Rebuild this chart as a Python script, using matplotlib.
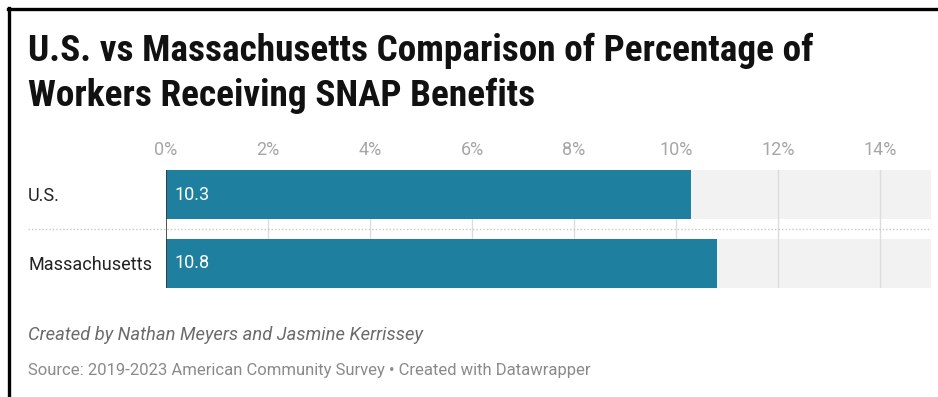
import matplotlib.pyplot as plt
import matplotlib.transforms as mtransforms
from matplotlib.lines import Line2D

plt.rcParams['font.family'] = ['Roboto', 'DejaVu Sans']

# data
categories = ['U.S.', 'Massachusetts']
values = [10.3, 10.8]
value_labels = ['10.3', '10.8']
ticks = [0, 2, 4, 6, 8, 10, 12, 14]
tick_labels = ['0%', '2%', '4%', '6%', '8%', '10%', '12%', '14%']
x_max = 15

title = 'U.S. vs Massachusetts Comparison of Percentage of\nWorkers Receiving SNAP Benefits'
byline = 'Created by Nathan Meyers and Jasmine Kerrissey'
source = 'Source: 2019-2023 American Community Survey \u2022 Created with Datawrapper'

W, H = 938, 397
fig = plt.figure(figsize=(W / 100, H / 100), dpi=100)
fig.patch.set_facecolor('white')

# axes placed in pixel terms
ax = fig.add_axes([166 / W, 1 - 288 / H, (931 - 166) / W, 118 / H])
bar_h = 49 / 69
pos = list(range(len(categories)))

ax.barh(pos, [x_max] * len(pos), height=bar_h, color='#f2f2f2', zorder=1)
for t in ticks[1:]:
    ax.axvline(t, color='#dcdcdc', lw=1, zorder=2)
ax.barh(pos, values, height=bar_h, color='#1f7f9f', zorder=3)
ax.axvline(0, color='#333333', lw=1.2, zorder=4)

ax.set_xlim(0, x_max)
ax.set_ylim(len(pos) - 1 + bar_h / 2, -bar_h / 2)
for s in ax.spines.values():
    s.set_visible(False)
ax.set_yticks([])
ax.set_xticks(ticks)
ax.set_xticklabels(tick_labels)
ax.tick_params(axis='x', top=True, labeltop=True, bottom=False, labelbottom=False,
               length=0, pad=8, labelsize=13, labelcolor='#a6a6a6')
ax.set_facecolor('none')

# value labels inside bars
for p, lab in zip(pos, value_labels):
    ax.text(0.17, p, lab, color='white', fontsize=13, va='center', ha='left', zorder=5)

# category labels on the left
blend = mtransforms.blended_transform_factory(fig.transFigure, ax.transData)
for p, c in zip(pos, categories):
    ax.text(28 / W, p + 0.02, c, transform=blend, fontsize=13, color='#222222',
            va='center', ha='left', clip_on=False)

# dotted separator between rows
for i in range(len(pos) - 1):
    ax.add_line(Line2D([28 / W, 931 / W], [i + 0.5, i + 0.5], transform=blend,
                       color='#c8c8c8', lw=1, ls=(0, (1, 1.5)), clip_on=False, zorder=2))

# title and footer
fig.text(28 / W, 1 - 33 / H, title, fontsize=26.8,
         family=['Roboto Condensed', 'Liberation Sans Narrow', 'Roboto'],
         fontweight='bold', color='#111111', va='top', ha='left', linespacing=1.31)
fig.text(28 / W, 1 - 335 / H, byline, fontsize=13.2, style='italic', color='#6b6b6b',
         va='center', ha='left')
fig.text(28 / W, 1 - 370 / H, source, fontsize=12, color='#8a8a8a',
         va='center', ha='left')

# frame lines on top and left
fig.add_artist(Line2D([8 / W, 936 / W], [1 - 9 / H, 1 - 9 / H], color='black', lw=2.4))
fig.add_artist(Line2D([9 / W, 9 / W], [0, 1 - 8 / H], color='black', lw=2.4))

fig.savefig('out.png', dpi=100)
